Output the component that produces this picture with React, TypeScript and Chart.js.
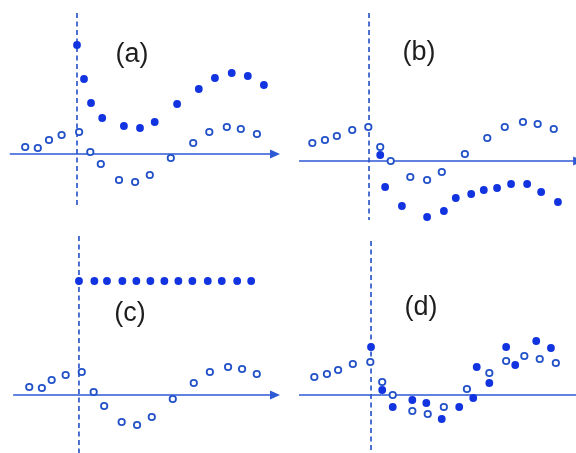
import React, { useEffect, useRef } from "react";
import { Chart, registerables } from "chart.js";

Chart.register(...registerables);

// Panel labels
const panelLabels = ["(a)", "(b)", "(c)", "(d)"];

// (a) – response (open) and signal with spike at onset (filled)
const openAX = [-3.7, -2.8, -2.0, -1.1, 0.15, 0.95, 1.7, 3.0, 4.15, 5.2, 6.7, 8.3, 9.45, 10.7, 11.7, 12.85];
const openAY = [0.35, 0.3, 0.7, 0.95, 1.1, 0.1, -0.5, -1.3, -1.4, -1.05, -0.2, 0.55, 1.1, 1.35, 1.25, 1.0];
const filledAX = [0, 0.5, 1.0, 1.8, 3.35, 4.5, 5.55, 7.15, 8.7, 9.85, 11.05, 12.2, 13.35];
const filledAY = [5.45, 3.75, 2.55, 1.8, 1.4, 1.3, 1.6, 2.5, 3.25, 3.8, 4.05, 3.9, 3.45];

// (b)
const openBX = [-4.05, -3.15, -2.3, -1.2, -0.05, 0.8, 1.55, 2.95, 4.15, 5.2, 6.85, 8.45, 9.7, 11.0, 12.05, 13.2];
const openBY = [0.9, 1.05, 1.25, 1.55, 1.7, 0.7, 0, -0.8, -0.95, -0.55, 0.35, 1.15, 1.7, 1.95, 1.85, 1.6];
const filledBX = [0.8, 1.15, 2.35, 4.15, 5.35, 6.2, 7.3, 8.2, 9.15, 10.15, 11.3, 12.3, 13.5];
const filledBY = [0.3, -1.3, -2.25, -2.8, -2.5, -1.85, -1.65, -1.45, -1.35, -1.15, -1.15, -1.55, -2.05];

// (c)
const openCX = [-3.55, -2.65, -1.95, -0.95, 0.2, 1.05, 1.8, 3.05, 4.15, 5.2, 6.7, 8.2, 9.35, 10.65, 11.65, 12.7];
const openCY = [0.4, 0.35, 0.75, 1.0, 1.15, 0.15, -0.55, -1.35, -1.5, -1.1, -0.2, 0.6, 1.15, 1.4, 1.3, 1.05];
const filledCX = [0, 1.1, 2.0, 3.1, 4.1, 5.1, 6.1, 7.1, 8.1, 9.2, 10.2, 11.3, 12.3];
const filledCY = [5.7, 5.7, 5.7, 5.7, 5.7, 5.7, 5.7, 5.7, 5.7, 5.7, 5.7, 5.7, 5.7];

// (d)
const openDX = [-4.05, -3.15, -2.35, -1.3, -0.05, 0.8, 1.55, 2.95, 4.05, 5.2, 6.85, 8.45, 9.65, 10.95, 12.05, 13.2];
const openDY = [0.9, 1.05, 1.25, 1.55, 1.65, 0.65, 0, -0.8, -0.95, -0.6, 0.3, 1.1, 1.7, 1.95, 1.8, 1.6];
const filledDX = [0, 0.8, 1.55, 2.95, 3.95, 5.05, 6.3, 7.3, 7.55, 8.45, 9.65, 10.3, 11.8, 12.85];
const filledDY = [2.4, 0.25, -0.6, -0.25, -0.4, -1.2, -0.6, -0.15, 1.4, 0.6, 2.4, 1.5, 2.7, 2.35];

const BLUE_FILL = "#1133e0";
const BLUE_OPEN = "#2352c8";
const BLUE_AXIS = "#2d5ad4";
const BLUE_DASH = "#2f58c8";

type PanelCfg = {
  label: string;
  left: number;
  top: number;
  width: number;
  height: number;
  xMin: number;
  xMax: number;
  yMin: number;
  yMax: number;
  axisFrom: number;
  axisTo: number;
  dashTop: number;
  dashBottom: number;
  labelX: number;
  labelY: number;
  openX: number[];
  openY: number[];
  filledX: number[];
  filledY: number[];
};

const panels: PanelCfg[] = [
  {
    label: panelLabels[0], left: 0, top: 0, width: 288, height: 226,
    xMin: -5.5, xMax: 15.07, yMin: -3.6, yMax: 7.7,
    axisFrom: -4.8, axisTo: 14.5, dashTop: 7.05, dashBottom: -2.65,
    labelX: 3.93, labelY: 4.95,
    openX: openAX, openY: openAY, filledX: filledAX, filledY: filledAY,
  },
  {
    label: panelLabels[1], left: 288, top: 0, width: 288, height: 226,
    xMin: -5.79, xMax: 14.79, yMin: -3.25, yMax: 8.05,
    axisFrom: -5.0, axisTo: 15.3, dashTop: 7.4, dashBottom: -2.95,
    labelX: 3.57, labelY: 5.4,
    openX: openBX, openY: openBY, filledX: filledBX, filledY: filledBY,
  },
  {
    label: panelLabels[2], left: 0, top: 226, width: 288, height: 227,
    xMin: -5.64, xMax: 14.93, yMin: -2.9, yMax: 8.45,
    axisFrom: -4.7, axisTo: 14.36, dashTop: 7.95, dashBottom: -3.0,
    labelX: 3.64, labelY: 4.05,
    openX: openCX, openY: openCY, filledX: filledCX, filledY: filledCY,
  },
  {
    label: panelLabels[3], left: 288, top: 226, width: 288, height: 227,
    xMin: -5.93, xMax: 14.64, yMin: -2.9, yMax: 8.45,
    axisFrom: -5.14, axisTo: 15.7, dashTop: 7.7, dashBottom: -3.0,
    labelX: 3.57, labelY: 4.35,
    openX: openDX, openY: openDY, filledX: filledDX, filledY: filledDY,
  },
];

const toPoints = (xs: number[], ys: number[]) => xs.map((x, i) => ({ x, y: ys[i] }));

// Draws the time axis with its arrow, the dashed onset line and the panel label
const axesPlugin = {
  id: "panelAxes",
  beforeDatasetsDraw(chart: any) {
    const cfg: PanelCfg = chart.options.plugins.panelAxes.cfg;
    const { ctx } = chart;
    const xs = chart.scales.x;
    const ys = chart.scales.y;
    ctx.save();

    // horizontal axis
    const y0 = ys.getPixelForValue(0);
    const xa = xs.getPixelForValue(cfg.axisFrom);
    const xb = xs.getPixelForValue(cfg.axisTo);
    ctx.strokeStyle = BLUE_AXIS;
    ctx.fillStyle = BLUE_AXIS;
    ctx.lineWidth = 1.6;
    ctx.beginPath();
    ctx.moveTo(xa, y0);
    ctx.lineTo(xb - 6, y0);
    ctx.stroke();
    ctx.beginPath();
    ctx.moveTo(xb, y0);
    ctx.lineTo(xb - 10, y0 - 4.5);
    ctx.lineTo(xb - 10, y0 + 4.5);
    ctx.closePath();
    ctx.fill();

    // dashed onset line
    const x0 = xs.getPixelForValue(0);
    ctx.strokeStyle = BLUE_DASH;
    ctx.lineWidth = 1.7;
    ctx.setLineDash([5, 3.5]);
    ctx.beginPath();
    ctx.moveTo(x0, ys.getPixelForValue(cfg.dashTop));
    ctx.lineTo(x0, ys.getPixelForValue(cfg.dashBottom));
    ctx.stroke();
    ctx.setLineDash([]);

    // label
    ctx.fillStyle = "#1e1e1e";
    ctx.font = '27px "Liberation Sans", Arial, sans-serif';
    ctx.textAlign = "center";
    ctx.textBaseline = "middle";
    ctx.fillText(cfg.label, xs.getPixelForValue(cfg.labelX), ys.getPixelForValue(cfg.labelY));
    ctx.restore();
  },
};

function Panel({ cfg }: { cfg: PanelCfg }) {
  const ref = useRef<HTMLCanvasElement | null>(null);

  useEffect(() => {
    if (!ref.current) return;
    const chart = new Chart(ref.current, {
      type: "scatter",
      data: {
        datasets: [
          {
            data: toPoints(cfg.openX, cfg.openY),
            pointStyle: "circle",
            pointRadius: 3.2,
            pointBorderWidth: 1.8,
            pointBackgroundColor: "#ffffff",
            pointBorderColor: BLUE_OPEN,
            showLine: false,
          },
          {
            data: toPoints(cfg.filledX, cfg.filledY),
            pointStyle: "circle",
            pointRadius: 3.9,
            pointBorderWidth: 0,
            pointBackgroundColor: BLUE_FILL,
            pointBorderColor: BLUE_FILL,
            showLine: false,
          },
        ],
      },
      options: {
        responsive: false,
        animation: false,
        layout: { padding: 0, autoPadding: false },
        events: [],
        scales: {
          x: { type: "linear", min: cfg.xMin, max: cfg.xMax, display: false },
          y: { type: "linear", min: cfg.yMin, max: cfg.yMax, display: false },
        },
        plugins: {
          legend: { display: false },
          tooltip: { enabled: false },
          panelAxes: { cfg },
        } as any,
      },
      plugins: [axesPlugin],
    });
    return () => chart.destroy();
  }, [cfg]);

  return (
    <canvas
      ref={ref}
      width={cfg.width}
      height={cfg.height}
      style={{ position: "absolute", left: cfg.left, top: cfg.top, width: cfg.width, height: cfg.height }}
    />
  );
}

export default function App() {
  return (
    <div
      style={{
        position: "fixed",
        left: 0,
        top: 0,
        width: 576,
        height: 453,
        background: "#ffffff",
        overflow: "hidden",
      }}
    >
      {panels.map((p) => (
        <Panel key={p.label} cfg={p} />
      ))}
    </div>
  );
}
